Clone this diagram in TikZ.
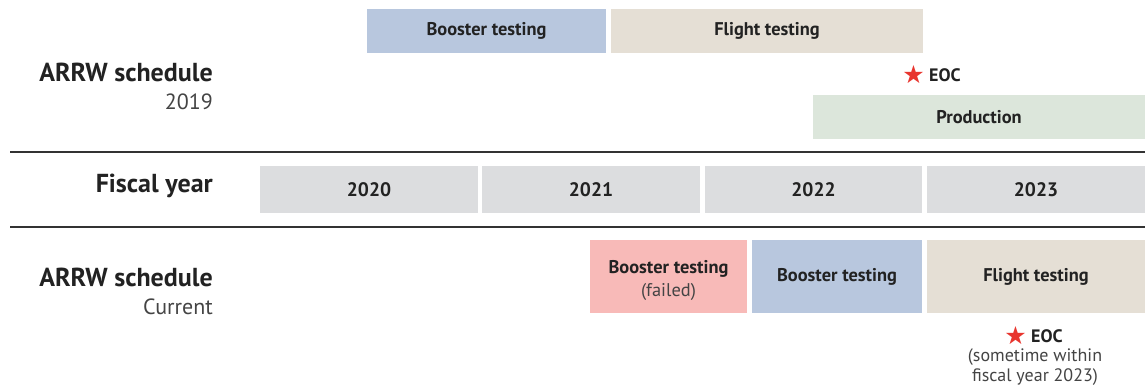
\documentclass[tikz,border=0pt]{standalone}
\usepackage{fontspec}
\setmainfont{PT Sans}
\newfontfamily\symfont{DejaVu Sans}
\definecolor{cblue}{HTML}{B8C7DE}
\definecolor{cbeige}{HTML}{E5DFD5}
\definecolor{cgreen}{HTML}{DCE6DB}
\definecolor{cgray}{HTML}{DCDDDF}
\definecolor{cpink}{HTML}{F8BAB8}
\definecolor{cred}{HTML}{E8352E}
\definecolor{ctext}{HTML}{222222}
\definecolor{clight}{HTML}{444444}
\definecolor{cline}{HTML}{333333}
\tikzset{
  bar/.style={inner sep=0pt, outer sep=0pt, align=center, text=ctext,
    font=\fontsize{18.4}{21}\selectfont\bfseries},
  yearbar/.style={bar, fill=cgray, minimum height=47pt,
    font=\fontsize{19.5}{22}\selectfont\bfseries},
  rowlabel/.style={inner sep=0pt, anchor=east, text=ctext,
    font=\fontsize{26}{29}\selectfont\bfseries},
  sublabel/.style={inner sep=0pt, anchor=east, text=clight,
    font=\fontsize{22}{25}\selectfont},
  star/.style={inner sep=0pt, text=cred, font=\symfont\fontsize{25}{27}\selectfont},
  eoc/.style={inner sep=0pt, anchor=west, text=ctext, font=\fontsize{18}{21}\selectfont\bfseries},
  note/.style={inner sep=0pt, text=clight, align=center, font=\fontsize{18}{20}\selectfont},
  rule/.style={line width=1.3pt, draw=cline}
}
\begin{document}
\begin{tikzpicture}[x=1pt,y=-1pt]
\useasboundingbox (0,0) rectangle (1148,389);
% top schedule (2019)
\node[bar, fill=cblue, minimum width=239pt, minimum height=44pt] (b19) at (486.5,30.5) {Booster testing};
\node[bar, fill=cbeige, minimum width=312pt, minimum height=44pt] (f19) at (767,30.5) {Flight testing};
\node[star] (s19) at (913.5,74.5) {★};
\node[eoc] (e19) at (929,75) {EOC};
\node[bar, fill=cgreen, minimum width=332pt, minimum height=44pt] (p19) at (979,117) {Production};
\node[rowlabel] (l19) at (213,72) {ARRW schedule};
\node[sublabel] (y19) at (213,102) {2019};
% fiscal year row
\coordinate (r1a) at (10,152);
\coordinate (r1b) at (1145,152);
\coordinate (r2a) at (10,227);
\coordinate (r2b) at (1145,227);
\draw[rule] (r1a) -- (r1b);
\draw[rule] (r2a) -- (r2b);
\node[rowlabel] (fy) at (213,186) {Fiscal year};
\node[yearbar, minimum width=218pt] (y20) at (369,189.5) {2020};
\node[yearbar, minimum width=218pt] (y21) at (591,189.5) {2021};
\node[yearbar, minimum width=217pt] (y22) at (813.5,189.5) {2022};
\node[yearbar, minimum width=218pt] (y23) at (1036,189.5) {2023};
% current schedule
\node[rowlabel] (lc) at (213,277) {ARRW schedule};
\node[sublabel] (yc) at (213,307) {Current};
\node[bar, fill=cpink, minimum width=157pt, minimum height=73pt] (bf) at (668.5,276.5) {};
\node[bar] (bft) at (668.5,280) {Booster testing\\[2pt]{\mdseries\color{clight}(failed)}};
\node[bar, fill=cblue, minimum width=170pt, minimum height=73pt] (bc) at (837,276.5) {Booster testing};
\node[bar, fill=cbeige, minimum width=218pt, minimum height=73pt] (fc) at (1036,276.5) {Flight testing};
\node[star] (sc) at (1015.5,335.5) {★};
\node[eoc] (ec) at (1031,336) {EOC};
\node[note] (nc) at (1035,367) {(sometime within\\fiscal year 2023)};
\end{tikzpicture}
\end{document}
